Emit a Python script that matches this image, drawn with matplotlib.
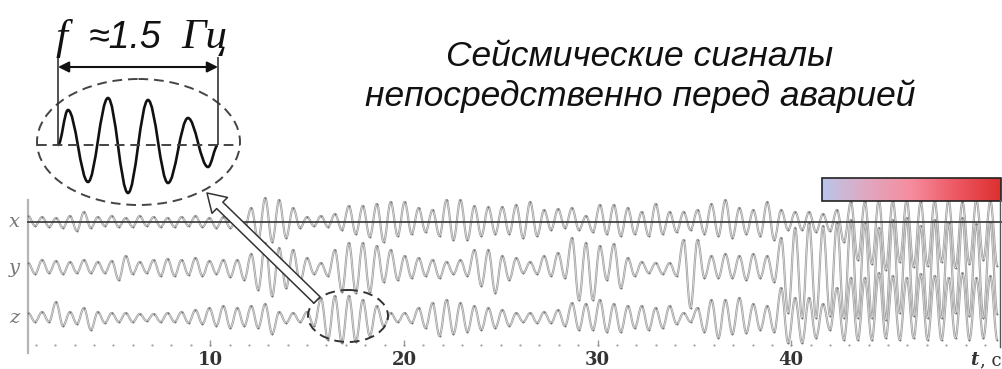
import numpy as np
import matplotlib
matplotlib.use("Agg")
import matplotlib.pyplot as plt
from matplotlib.path import Path
from matplotlib.patches import PathPatch, Ellipse, FancyArrowPatch, Rectangle, ArrowStyle
from matplotlib.colors import LinearSegmentedColormap
import matplotlib.patheffects as pe

# seismogram channels: extremum values (px-scale amplitude), one every half period
T0 = 0.6      # s, first extremum
HALF = 0.36   # s, half period
x_ext = [6, -4, 5, -5, 4, -6, 6, -9, 10, -6,
         5, -4, 6, -5, 4, -5, 6, -4, 5, -5,
         4, -5, 5, -4, 6, -5, 4, -6, 5, -6,
         4, -8, 14, -18, 24, -20, 22, -16, 14, -6,
         5, -4, 6, -5, 8, -8, 16, -12, 16, -15,
         18, -20, 20, -14, 20, -12, 14, -10, 12, -14,
         22, -18, 22, -18, 16, -14, 15, -12, 15, -12,
         17, -16, 20, -14, 12, -8, 13, -6, 14, -8,
         6, -10, 17, -12, 17, -14, 14, -12, 10, -14,
         18, -12, 10, -10, 10, -8, 12, -12, 18, -14,
         22, -16, 14, -12, 12, -14, 20, -18, 12, -8,
         10, -8, 10, -10, 8, -9, 12, -20, 20, -38,
         20, -42, 22, -48, 21, -40, 22, -45, 20, -44,
         21, -40, 22, -46, 20, -42, 22, -38, 21, -44]
y_ext = [5, -6, 8, -5, 7, -6, 6, -5, 8, -5,
         6, -5, 7, -12, 12, -6, 6, -5, 8, -8,
         9, -8, 8, -7, 10, -8, 7, -6, 8, -9,
         8, -12, 14, -22, 25, -28, 20, -20, 18, -14,
         10, -6, 5, -8, 18, -24, 25, -25, 25, -24,
         22, -14, 18, -12, 12, -10, 10, -8, 8, -10,
         6, -6, 8, -8, 18, -18, 18, -25, 12, -12,
         10, -5, 6, -6, 12, -8, 15, -10, 30, -32,
         25, -32, 22, -12, 24, -20, 10, -8, 6, -5,
         5, -6, 5, -8, 28, -40, 28, -10, 12, -10,
         14, -10, 12, -12, 14, -10, 12, -14, 30, -45,
         40, -50, 45, -50, 42, -48, 45, -50, 48, -50,
         45, -50, 40, -52, 48, -45, 50, -48, 42, -50,
         48, -50, 45, -45, 50, -48, 44, -50, 46, -46]
z_ext = [5, -4, 6, -4, 16, -8, 6, -6, 10, -12,
         6, -5, 5, -4, 5, -4, 4, -3, 4, -4,
         5, -4, 6, -5, 8, -6, 10, -8, 12, -10,
         10, -8, 12, -10, 14, -16, 6, -5, 5, -4,
         6, -8, 20, -22, 22, -25, 22, -24, 18, -18,
         12, -8, 5, -4, 5, -5, 10, -10, 15, -18,
         18, -16, 15, -14, 12, -12, 10, -10, 8, -8,
         5, -4, 5, -5, 6, -5, 8, -8, 15, -12,
         14, -12, 18, -14, 14, -14, 12, -10, 12, -12,
         10, -10, 12, -6, 5, -4, 10, -14, 18, -20,
         18, -16, 20, -15, 14, -12, 12, -14, 30, -25,
         20, -25, 20, -20, 14, -12, 30, -22, 40, -22,
         40, -22, 45, -20, 42, -22, 40, -20, 44, -22,
         42, -22, 40, -20, 45, -22, 40, -20, 42, -22]
channels = ["x", "y", "z"]
tick_vals = [10, 20, 30, 40]

# zoomed fragment (~1.5 Hz)
inset_amp = [0, 35, -37, 47, -48, 45, -38, 27, -22, 0]

def wave_path(t, v, k=0.363):
    # smooth cubic segments between extrema (horizontal tangents)
    verts = [(t[0], v[0])]
    codes = [Path.MOVETO]
    for i in range(1, len(t)):
        d = t[i] - t[i - 1]
        verts += [(t[i - 1] + k * d, v[i - 1]), (t[i] - k * d, v[i]), (t[i], v[i])]
        codes += [Path.CURVE4] * 3
    return Path(verts, codes)

fig = plt.figure(figsize=(10.02, 3.69), dpi=100)
ax = fig.add_axes([0, 0, 1, 1])
ax.set_xlim(-0.853, 50.88)
ax.set_ylim(-147, 222)
ax.axis("off")

offsets = [0, -46, -96]
for name, ext, off in zip(channels, [x_ext, y_ext, z_ext], offsets):
    ext = np.asarray(ext, float)
    t = T0 + HALF * np.arange(len(ext))
    p = PathPatch(wave_path(t, ext + off), fill=False, edgecolor="#ececec", lw=0.4, zorder=2,
                  path_effects=[pe.Stroke(linewidth=1.6, foreground="#a2a2a2"), pe.Normal()])
    ax.add_patch(p)
    ax.scatter(t, ext + off, s=2, color="#777777", lw=0, zorder=3)
    ax.text(-0.13, off, name, ha="center", va="center", fontsize=14, color="#777777",
            family="DejaVu Serif", style="italic")

# x-channel zero line and left axis
ax.plot([0.6, 50.88], [0, 0], color="#333333", lw=1.2, zorder=4)
ax.plot([0.59, 0.59], [22, -131], color="#b5b5b5", lw=1.6, zorder=1)

# time axis: dotted seconds, labels every 10 s
secs = np.arange(1, 51)
ax.scatter(secs, np.full(len(secs), -123), s=2.5, color="#a0a0a0", lw=0)
ax.vlines(tick_vals, -124, -118, color="#999999", lw=1)
for tv in tick_vals:
    ax.text(tv, -138, str(tv), ha="center", va="center", fontsize=13,
            family="DejaVu Serif", weight="bold", color="#333333")
ax.text(49.45, -138, "t", ha="center", va="center", fontsize=13,
        family="DejaVu Serif", weight="bold", style="italic", color="#333333")
ax.text(49.75, -138, ", c", ha="left", va="center", fontsize=13,
        family="DejaVu Serif", color="#333333")

# overlay in pixel units for the annotations
ov = fig.add_axes([0, 0, 1, 1], zorder=5)
ov.patch.set_alpha(0)
ov.axis("off")

# colour band over the final part of the record
cmap = LinearSegmentedColormap.from_list("band", ["#b9c6ea", "#e0a8c0", "#f58c9e", "#ec5863", "#dd3030"])
ov.imshow(np.linspace(0, 1, 256)[None, :], cmap=cmap, extent=(822, 1001, 201, 178), aspect="auto")
ov.add_patch(Rectangle((822, 178), 179, 23, fill=False, ec="#222222", lw=1.2))
ov.plot([1000.5, 1000.5], [200, 347], color="#555555", lw=1)
ov.set_xlim(0, 1002)
ov.set_ylim(369, 0)

# title
ov.text(640, 56, "Сейсмические сигналы", ha="center", va="center", fontsize=25.5,
        family="Liberation Sans", style="italic", color="#111111")
ov.text(640, 96, "непосредственно перед аварией", ha="center", va="center", fontsize=25.5,
        family="Liberation Sans", style="italic", color="#111111")

# zoomed fragment with period marker
ov.add_patch(Ellipse((138.5, 142), 203, 126, fill=False, ls=(0, (5, 3)), lw=1.4, ec="#444444"))
ov.plot([37, 240], [145, 145], ls=(0, (5, 3)), lw=1.4, color="#444444")
ix = 58 + np.r_[0, 10 + 20 * np.arange(8), 160]
ov.add_patch(PathPatch(wave_path(ix, 145 - np.asarray(inset_amp, float)), fill=False,
                       ec="#111111", lw=1.9))
ov.vlines([58, 218], 57, 145, color="#333333", lw=1.2)
ov.annotate("", xy=(58, 67), xytext=(218, 67),
            arrowprops=dict(arrowstyle="<|-|>", color="#111111", lw=1.5,
                            mutation_scale=16, shrinkA=0, shrinkB=0))
ov.text(62, 38, "f", ha="center", va="center", fontsize=31, family="Liberation Serif",
        style="italic", color="#111111")
ov.text(125, 38, "≈1.5", ha="center", va="center", fontsize=27, family="Liberation Sans",
        style="italic", color="#111111")
ov.text(204, 38, "Гц", ha="center", va="center", fontsize=31, family="Liberation Serif",
        style="italic", color="#111111")

# small marker around the 1.5 Hz burst and the pointer to the zoom
ov.add_patch(Ellipse((348, 316), 80, 52, fill=False, ls=(0, (5, 3)), lw=1.4, ec="#333333"))
ov.add_patch(FancyArrowPatch((317, 300), (207, 193),
                             arrowstyle=ArrowStyle.Simple(head_length=0.8, head_width=1.0, tail_width=0.4),
                             mutation_scale=16, fc="white", ec="#333333", lw=1.1, shrinkA=0, shrinkB=0))

fig.savefig("out.png", dpi=100)
